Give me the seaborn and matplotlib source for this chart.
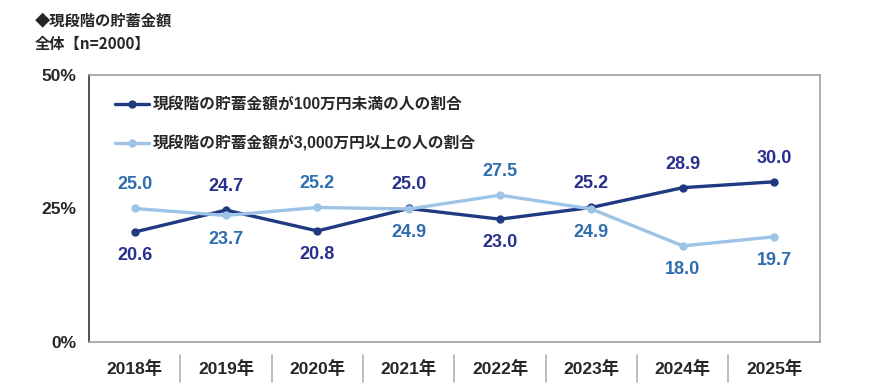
import matplotlib
matplotlib.use("Agg")
import matplotlib.pyplot as plt
import seaborn as sns
import pandas as pd

# data
years = ["2018年", "2019年", "2020年", "2021年", "2022年", "2023年", "2024年", "2025年"]
under_1m = [20.6, 24.7, 20.8, 25.0, 23.0, 25.2, 28.9, 30.0]
over_30m = [25.0, 23.7, 25.2, 24.9, 27.5, 24.9, 18.0, 19.7]
series_names = ["現段階の貯蓄金額が100万円未満の人の割合",
                "現段階の貯蓄金額が3,000万円以上の人の割合"]
# +1 = label above the point, -1 = below
under_pos = [-1, 1, -1, 1, -1, 1, 1, 1]
over_pos = [1, -1, 1, -1, 1, -1, -1, -1]

line_colors = ["#1F3A80", "#9DC3E6"]
label_colors = ["#28308C", "#2E6DAE"]

df = pd.DataFrame({
    "idx": list(range(len(years))) * 2,
    "value": under_1m + over_30m,
    "series": [series_names[0]] * len(years) + [series_names[1]] * len(years),
})

sns.set_style("white")
plt.rcParams["font.family"] = ["Liberation Sans", "Noto Sans CJK JP", "DejaVu Sans"]

fig = plt.figure(figsize=(8.7, 3.85), dpi=100)
ax = fig.add_axes([0.1023, 0.1117, 0.840, 0.6935])

sns.lineplot(data=df, x="idx", y="value", hue="series", hue_order=series_names,
             palette=line_colors, marker="o", markersize=6, markeredgewidth=0,
             linewidth=2.4, ax=ax)

for vals, pos, col in [(under_1m, under_pos, label_colors[0]),
                       (over_30m, over_pos, label_colors[1])]:
    for i, (v, p) in enumerate(zip(vals, pos)):
        ax.annotate(f"{v:.1f}", (i, v), xytext=(0, 17 * p), textcoords="offset points",
                    ha="center", va="center", fontsize=13, fontweight="bold", color=col)

ax.set_xlim(-0.5, len(years) - 0.5)
ax.set_ylim(0, 50)
ax.set_yticks([0, 25, 50])
ax.set_yticklabels(["0%", "25%", "50%"], fontsize=12.5, fontweight="bold")
ax.set_xticks([i + 0.5 for i in range(len(years))])
ax.set_xticklabels([])
ax.set_xticks(list(range(len(years))), minor=True)
ax.set_xticklabels(years, minor=True, fontsize=12.5, fontweight="bold",
                   family=["Liberation Sans", "Noto Sans CJK JP"])
ax.tick_params(axis="x", which="minor", length=0, pad=13)
ax.tick_params(axis="x", which="major", length=4, color="#A0A0A0", direction="out")
ax.tick_params(axis="y", length=4, color="#333333", direction="out", pad=5)
ax.set_xlabel("")
ax.set_ylabel("")

for side in ["top", "right", "bottom"]:
    ax.spines[side].set_color("#A0A0A0")
    ax.spines[side].set_linewidth(1.2)
ax.spines["left"].set_color("#333333")
ax.spines["left"].set_linewidth(1.2)

# category separators under the axis
for i in range(len(years) - 1):
    ax.plot([i + 0.5, i + 0.5], [-0.049, -0.15], color="#B0B0B0", linewidth=1.2,
            transform=ax.get_xaxis_transform(), clip_on=False)

leg = ax.legend(loc="upper left", bbox_to_anchor=(0.016, 0.97), frameon=False,
                handlelength=2.2, handletextpad=0.2, labelspacing=1.5,
                prop={"family": ["Liberation Sans", "Noto Sans CJK JP"], "weight": "bold", "size": 11.3})

fig.text(0.040, 0.947, "◆現段階の貯蓄金額", fontsize=11, fontweight="bold",
         family=["Noto Sans CJK JP"], va="center")
fig.text(0.040, 0.885, "全体【n=2000】", fontsize=11, fontweight="bold",
         family=["Noto Sans CJK JP"], va="center")

fig.savefig("out.png", dpi=100)
